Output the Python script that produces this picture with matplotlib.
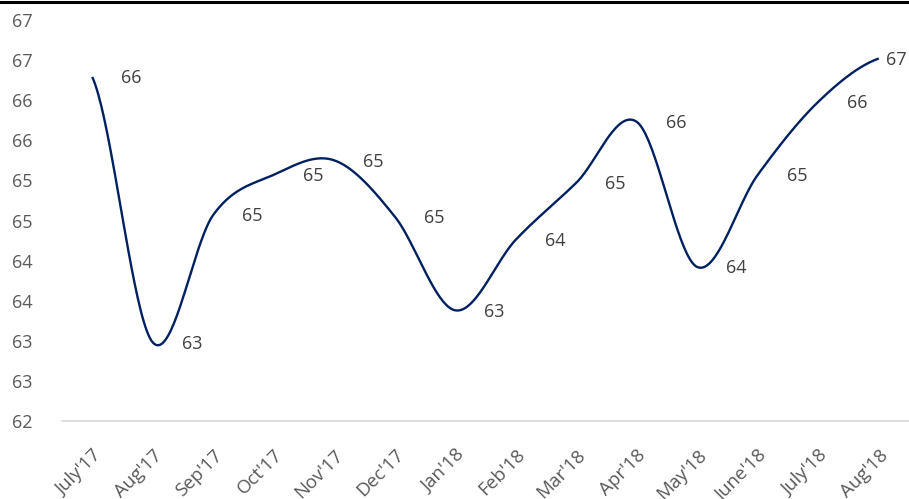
import math
import numpy as np
import matplotlib
matplotlib.use("Agg")
import matplotlib.pyplot as plt
from matplotlib.lines import Line2D

plt.rcParams['font.family'] = ['Open Sans', 'DejaVu Sans']

categories = ["July'17", "Aug'17", "Sep'17", "Oct'17", "Nov'17", "Dec'17", "Jan'18",
              "Feb'18", "Mar'18", "Apr'18", "May'18", "June'18", "July'18", "Aug'18"]
values = [66.29, 62.98, 64.57, 65.07, 65.25, 64.55, 63.38,
          64.26, 64.97, 65.73, 63.92, 65.07, 65.98, 66.52]
ytick_values = [62.0, 62.5, 63.0, 63.5, 64.0, 64.5, 65.0, 65.5, 66.0, 66.5, 67.0]
ytick_labels = ["62", "63", "63", "64", "64", "65", "65", "66", "66", "67", "67"]

LINE_COLOR = "#002060"
TICK_COLOR = "#595959"
LABEL_COLOR = "#404040"


def catmull_rom(xs, ys, n=40):
    """Smooth line through points (rendering only, like Excel's smoothed line)."""
    px = np.asarray(xs, float)
    py = np.asarray(ys, float)
    px = np.concatenate([[2 * px[0] - px[1]], px, [2 * px[-1] - px[-2]]])
    py = np.concatenate([[py[0]], py, [py[-1]]])
    out_x, out_y = [], []
    t = np.linspace(0, 1, n, endpoint=False)
    for i in range(1, len(px) - 2):
        p0, p1, p2, p3 = (np.array([px[j], py[j]]) for j in (i - 1, i, i + 1, i + 2))
        c1 = p1 + (p2 - p0) / 6.0
        c2 = p2 - (p3 - p1) / 6.0
        b = ((1 - t) ** 3)[:, None] * p1 + (3 * (1 - t) ** 2 * t)[:, None] * c1 \
            + (3 * (1 - t) * t ** 2)[:, None] * c2 + (t ** 3)[:, None] * p2
        out_x.extend(b[:, 0]); out_y.extend(b[:, 1])
    out_x.append(px[-2]); out_y.append(py[-2])
    return np.array(out_x), np.array(out_y)


fig = plt.figure(figsize=(9.09, 4.99), dpi=100)
ax = fig.add_axes([62 / 909, 1 - 421 / 499, 1 - 62 / 909, (421 - 20) / 499])

x = np.arange(len(categories))
sx, sy = catmull_rom(x, values)
ax.plot(sx, sy, color=LINE_COLOR, lw=1.7, solid_capstyle='butt', clip_on=False)

for i, v in enumerate(values):
    lbl = str(int(math.floor(v + 0.5)))
    dx = 21 if i < len(values) - 1 else 5
    ax.annotate(lbl, (x[i], v), xytext=(dx, -1), textcoords='offset points',
                ha='left', va='center', fontsize=13, color=LABEL_COLOR)

ax.set_xlim(-0.5, len(categories) - 0.5)
ax.set_ylim(62, 67)
ax.set_yticks(ytick_values)
ax.set_yticklabels(ytick_labels)
ax.set_xticks(x)
ax.set_xticklabels(categories, rotation=45, ha='right', rotation_mode='anchor')
ax.tick_params(axis='y', length=0, pad=21, labelsize=13, labelcolor=TICK_COLOR)
ax.tick_params(axis='x', length=0, pad=18, labelsize=13.5, labelcolor=TICK_COLOR)

for s in ['top', 'right', 'left']:
    ax.spines[s].set_visible(False)
ax.spines['bottom'].set_color('#D9D9D9')
ax.spines['bottom'].set_linewidth(1.2)

# top border line of the image
fig.add_artist(Line2D([0, 1], [1 - 1.5 / 499, 1 - 1.5 / 499], transform=fig.transFigure,
                      color='black', lw=2.2))

fig.savefig("out.png", dpi=100)
